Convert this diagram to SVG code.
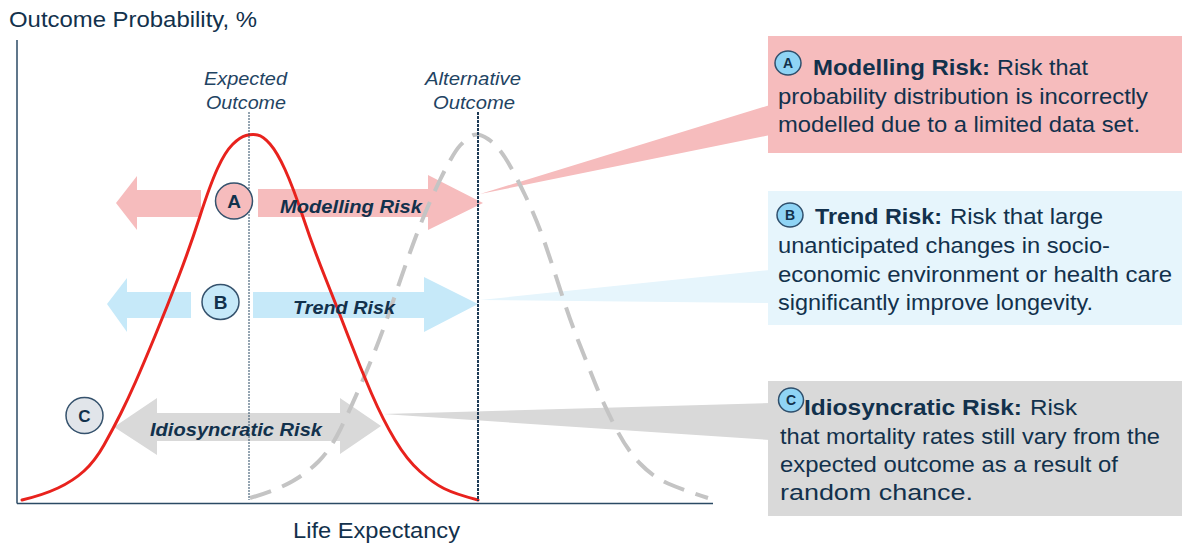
<svg xmlns="http://www.w3.org/2000/svg" width="1182" height="546" viewBox="0 0 1182 546">
<style>
  text { font-family: "Liberation Sans", Arial, sans-serif; fill: #12314c; }
  .lbl { font-size: 18px; font-style: italic; fill: #1f4463; }
  .arrlbl { font-size: 19px; font-style: italic; font-weight: bold; }
  .box { font-size: 22px; }
  .b { font-weight: bold; }
  .circ { stroke: #35526d; stroke-width: 1.5; }
  .circtxt { font-size: 19px; font-weight: bold; text-anchor: middle; }
  .icon { fill: #8fd4f5; stroke: #2f4f6c; stroke-width: 1.5; }
  .icontxt { font-size: 14px; font-weight: bold; text-anchor: middle; }
</style>
<rect width="1182" height="546" fill="#ffffff"/>

<!-- callout boxes and wedges -->
<g id="callout-A">
  <polygon points="480,194 770,105 770,135" fill="#f6bcbd"/>
  <rect x="768" y="36" width="414" height="117" fill="#f6bcbd"/>
  <ellipse class="icon" cx="788" cy="63" rx="13" ry="12"/>
  <text class="icontxt" x="788" y="68">A</text>
  <text class="box b" x="813" y="75" textLength="177" lengthAdjust="spacingAndGlyphs">Modelling Risk:</text>
  <text class="box" x="997" y="75" textLength="91" lengthAdjust="spacingAndGlyphs">Risk that</text>
  <text class="box" x="778" y="104" textLength="370" lengthAdjust="spacingAndGlyphs">probability distribution is incorrectly</text>
  <text class="box" x="778" y="132" textLength="362" lengthAdjust="spacingAndGlyphs">modelled due to a limited data set.</text>
</g>
<g id="callout-B">
  <polygon points="480,300 770,270 770,303" fill="#e6f5fc"/>
  <rect x="768" y="191" width="414" height="134" fill="#e6f5fc"/>
  <ellipse class="icon" cx="790" cy="215" rx="13" ry="12"/>
  <text class="icontxt" x="790" y="220">B</text>
  <text class="box b" x="815" y="224" textLength="127" lengthAdjust="spacingAndGlyphs">Trend Risk:</text>
  <text class="box" x="950" y="224" textLength="153" lengthAdjust="spacingAndGlyphs">Risk that large</text>
  <text class="box" x="778" y="253" textLength="332" lengthAdjust="spacingAndGlyphs">unanticipated  changes  in  socio-</text>
  <text class="box" x="778" y="282" textLength="394" lengthAdjust="spacingAndGlyphs">economic  environment  or health  care</text>
  <text class="box" x="778" y="310" textLength="315" lengthAdjust="spacingAndGlyphs">significantly improve longevity.</text>
</g>
<g id="callout-C">
  <polygon points="383,414 770,403 770,440" fill="#d9d9d9"/>
  <rect x="768" y="381" width="414" height="135" fill="#d9d9d9"/>
  <ellipse class="icon" cx="791" cy="400" rx="12.5" ry="12"/>
  <text class="icontxt" x="791" y="405">C</text>
  <text class="box b" x="804" y="415" textLength="218" lengthAdjust="spacingAndGlyphs">Idiosyncratic Risk:</text>
  <text class="box" x="1030" y="415" textLength="47" lengthAdjust="spacingAndGlyphs">Risk</text>
  <text class="box" x="780" y="444" textLength="380" lengthAdjust="spacingAndGlyphs">that mortality rates still vary from the</text>
  <text class="box" x="780" y="472" textLength="338" lengthAdjust="spacingAndGlyphs">expected outcome as a result of</text>
  <text class="box" x="780" y="500" textLength="193" lengthAdjust="spacingAndGlyphs">random chance.</text>
</g>

<!-- risk arrows -->
<g id="arrows-A">
  <path d="M116,203 L137,176 L137,190 L201,190 L201,217 L137,217 L137,230 Z" fill="#f6bcbd"/>
  <path d="M258,189 L428,189 L428,175 L483,203 L428,230 L428,217 L258,217 Z" fill="#f6bcbd"/>
</g>
<g id="arrows-B">
  <path d="M107,304 L127,278 L127,292 L191,292 L191,318 L127,318 L127,332 Z" fill="#c6e9f9"/>
  <path d="M253,292 L424,292 L424,277 L478,304 L424,332 L424,318 L253,318 Z" fill="#c6e9f9"/>
</g>
<g id="arrows-C">
  <path d="M114,427 L157,398 L157,413 L340,413 L340,398 L381,426 L340,454 L340,441 L157,441 L157,455 Z" fill="#d9d9d9"/>
</g>

<!-- axes -->
<g id="axes" stroke="#2b4a64" stroke-width="1.5" fill="none">
  <line x1="17" y1="40" x2="17" y2="503.5"/>
  <line x1="17" y1="503.5" x2="713" y2="503.5"/>
</g>

<!-- distributions -->
<g id="curves" fill="none">
  <path d="M250,498 Q277,490 292,481.5 Q307,473 318.5,461.5 Q330,450 340,430 Q350,410 365,375 Q380,340 393.5,300 Q407,260 417,233.5 Q427,207 440,180 Q453,153 460.5,145 Q468,137 473.5,135 Q479,133 488,139 Q497,145 505,157.5 Q513,170 525,195 Q537,220 545,243.5 Q553,267 561.5,293.5 Q570,320 578.5,341.5 Q587,363 595,383 Q603,403 615,426.5 Q627,450 640,463.5 Q653,477 668,483.5 Q683,490 708,498" stroke="#c4c4c4" stroke-width="4" stroke-dasharray="22 12"/>
  <path d="M22,500 Q43,495 58,488 Q73,481 84,471 Q95,461 104,445 Q113,429 120.5,414 Q128,399 135.5,382 Q143,365 155,336 Q167,307 178.5,277 Q190,247 200,216 Q210,185 217.5,168.5 Q225,152 232.5,144.5 Q240,137 246,135.5 Q252,134 257.5,135 Q263,136 270,144 Q277,152 285,169.5 Q293,187 303,217 Q313,247 325,277 Q337,307 348.5,337 Q360,367 371.5,393.5 Q383,420 395,440 Q407,460 420,471.5 Q433,483 444,488.5 Q455,494 478,500" stroke="#e8221d" stroke-width="3" stroke-linecap="round"/>
</g>

<!-- outcome markers -->
<g id="expected-outcome">
  <line x1="249" y1="112" x2="249" y2="500" stroke="#2b4a64" stroke-width="1" stroke-dasharray="2 1"/>
  <text class="lbl" x="204" y="85" textLength="83" lengthAdjust="spacingAndGlyphs">Expected</text>
  <text class="lbl" x="206" y="109" textLength="80" lengthAdjust="spacingAndGlyphs">Outcome</text>
</g>
<g id="alternative-outcome">
  <line x1="478" y1="112" x2="478" y2="501" stroke="#1d3a55" stroke-width="2" stroke-dasharray="3 1"/>
  <text class="lbl" x="425" y="85" textLength="96" lengthAdjust="spacingAndGlyphs">Alternative</text>
  <text class="lbl" x="433" y="109" textLength="82" lengthAdjust="spacingAndGlyphs">Outcome</text>
</g>

<!-- arrow labels and markers -->
<g id="label-A">
  <ellipse class="circ" cx="234" cy="201" rx="18.5" ry="18" fill="#f6bcbd"/>
  <text class="circtxt" x="234" y="208">A</text>
  <text class="arrlbl" x="280" y="213" textLength="142" lengthAdjust="spacingAndGlyphs">Modelling  Risk</text>
</g>
<g id="label-B">
  <ellipse class="circ" cx="220.5" cy="302" rx="18.5" ry="17.5" fill="#c6e9f9"/>
  <text class="circtxt" x="220.5" y="309">B</text>
  <text class="arrlbl" x="293" y="314" textLength="102" lengthAdjust="spacingAndGlyphs">Trend Risk</text>
</g>
<g id="label-C">
  <ellipse class="circ" cx="84.5" cy="415.5" rx="18.5" ry="18" fill="#e1e5ea"/>
  <text class="circtxt" x="84.5" y="422" style="font-size:17px">C</text>
  <text class="arrlbl" x="150" y="436" textLength="172" lengthAdjust="spacingAndGlyphs">Idiosyncratic  Risk</text>
</g>

<!-- axis titles -->
<g id="axis-titles">
  <text x="9" y="27" style="font-size:22px" textLength="248" lengthAdjust="spacingAndGlyphs">Outcome Probability, %</text>
  <text x="293" y="538" style="font-size:22px" textLength="167" lengthAdjust="spacingAndGlyphs">Life Expectancy</text>
</g>
</svg>
